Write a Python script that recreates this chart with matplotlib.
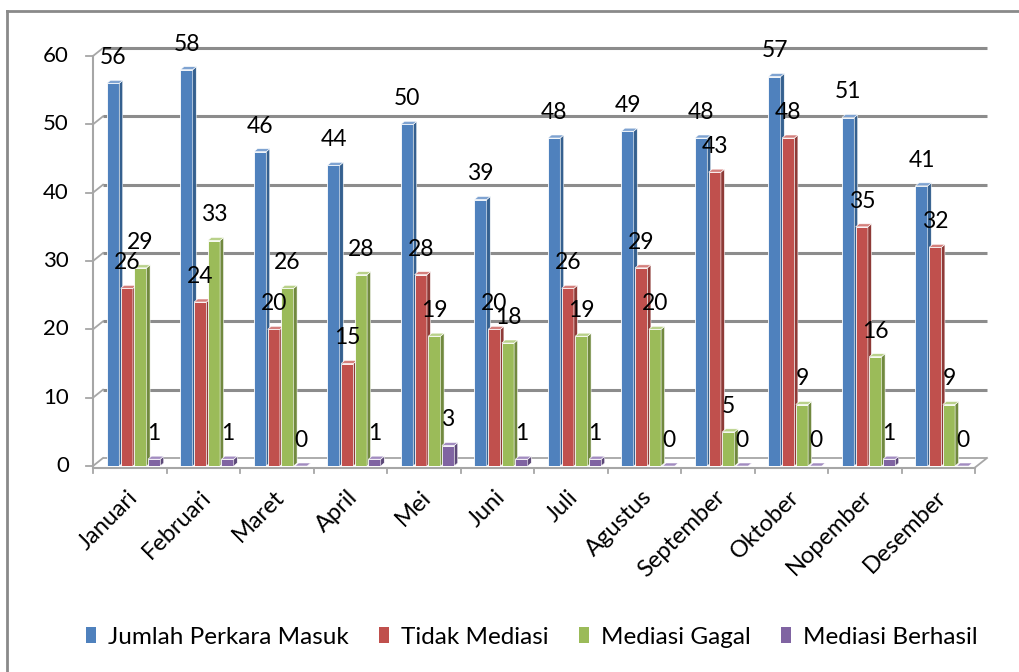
import matplotlib
matplotlib.use("Agg")
import matplotlib.pyplot as plt
from matplotlib.patches import Polygon, Patch
from matplotlib.lines import Line2D

plt.rcParams['font.family'] = ['Lato', 'DejaVu Sans']

months = ["Januari", "Februari", "Maret", "April", "Mei", "Juni", "Juli",
          "Agustus", "September", "Oktober", "Nopember", "Desember"]
series_names = ["Jumlah Perkara Masuk", "Tidak Mediasi", "Mediasi Gagal", "Mediasi Berhasil"]
jumlah_masuk = [56, 58, 46, 44, 50, 39, 48, 49, 48, 57, 51, 41]
tidak_mediasi = [26, 24, 20, 15, 28, 20, 26, 29, 43, 48, 35, 32]
mediasi_gagal = [29, 33, 26, 28, 19, 18, 19, 20, 5, 9, 16, 9]
mediasi_berhasil = [1, 1, 0, 1, 3, 1, 1, 0, 0, 0, 1, 0]
y_ticks = [0, 10, 20, 30, 40, 50, 60]

series = [jumlah_masuk, tidak_mediasi, mediasi_gagal, mediasi_berhasil]
front_col = ["#4F81BD", "#C0504D", "#9BBB59", "#8064A2"]
side_col = ["#35608F", "#8E3A37", "#71893F", "#5C4878"]
top_col = ["#7FA3D1", "#D47F7C", "#B9D18A", "#A28CC0"]

W, H = 1019, 672
fig = plt.figure(figsize=(W / 100, H / 100), dpi=100)

# axes in pixel geometry
x0_px, x1_px = 93, 975
y0_px, y60_px = 466, 56
ax = fig.add_axes([x0_px / W, 1 - y0_px / H, (x1_px - x0_px) / W, (y0_px - y60_px) / H])
ax.set_xlim(0, 12)
ax.set_ylim(0, 60)
ax.axis("off")

ppx = (x1_px - x0_px) / 12.0     # px per x unit
ppy = (y0_px - y60_px) / 60.0    # px per y unit

def dx(px):
    return px / ppx

def dy(px):
    return px / ppy

# Walls / gridlines
grid_c = "#8C8C8C"
wall_dx, wall_dy = dx(10), dy(8)
for v in y_ticks:
    ax.plot([0, wall_dx], [v, v + wall_dy], color="#A6A6A6", lw=1.3, clip_on=False, zorder=1)
    ax.plot([wall_dx, 12 + dx(12)], [v + wall_dy, v + wall_dy],
            color=grid_c if v > 0 else "#A6A6A6", lw=2.2 if v > 0 else 1.3,
            clip_on=False, zorder=1, solid_capstyle="butt")
    ax.plot([-dx(7), 0], [v, v], color="#A6A6A6", lw=1.3, clip_on=False, zorder=1)
    ax.text(-dx(24), v, str(v), ha="right", va="center", fontsize=16, color="#000000")
ax.plot([0, 0], [0, 60], color="#A6A6A6", lw=1.5, clip_on=False, zorder=1)
ax.plot([0, 12], [-dy(1.5), -dy(1.5)], color="#A6A6A6", lw=1.5, clip_on=False, zorder=1)
ax.plot([12, 12 + dx(12)], [-dy(1.5), wall_dy], color="#A6A6A6", lw=1.3, clip_on=False, zorder=1)
for i in range(13):
    ax.plot([i, i], [-dy(1.5), -dy(7)], color="#A6A6A6", lw=1.3, clip_on=False, zorder=1)

# Bars
bw = 0.167
pitch = 0.186
off = 0.19
sdx, sdy = dx(3.5), dy(3)
z = 3
for i in range(12):
    for j, s in enumerate(series):
        v = s[i]
        xl = i + off + j * pitch
        xr = xl + bw
        ax.bar(xl, v, width=bw, align="edge", color=front_col[j],
               edgecolor="white", linewidth=0.6, zorder=z)
        side = Polygon([[xr, 0], [xr, v], [xr + sdx, v + sdy], [xr + sdx, sdy]],
                       closed=True, facecolor=side_col[j], edgecolor="white",
                       linewidth=0.4, zorder=z)
        top = Polygon([[xl, v], [xr, v], [xr + sdx, v + sdy], [xl + sdx, v + sdy]],
                      closed=True, facecolor=top_col[j], edgecolor="white",
                      linewidth=0.4, zorder=z)
        ax.add_patch(side)
        ax.add_patch(top)
        z += 1

for i in range(12):
    for j, s in enumerate(series):
        v = s[i]
        xl = i + off + j * pitch
        ax.annotate(str(v), xy=(xl + bw / 2, v), xytext=(0, 18.4),
                    textcoords="offset points", ha="center", va="center",
                    fontsize=16.5, color="#000000", zorder=200, annotation_clip=False)

# Category labels
for i, m in enumerate(months):
    ax.annotate(m, xy=(i + 0.5, 0), xytext=(3, -20), textcoords="offset points",
                rotation=45, ha="right", va="center", rotation_mode="anchor",
                fontsize=17, color="#000000", annotation_clip=False)

# Legend
handles = [Patch(facecolor=c, edgecolor="none") for c in front_col]
fig.legend(handles, series_names, loc="center", bbox_to_anchor=(0.522, 1 - 637 / H),
           ncol=4, frameon=False, fontsize=17.5, handlelength=0.4, handleheight=0.6,
           handletextpad=0.5, columnspacing=1.25)

# Outer border (left and top)
fig.add_artist(Line2D([7 / W, 7 / W], [0, 1 - 11 / H], color="#8A8A8A", lw=2))
fig.add_artist(Line2D([7 / W, 1], [1 - 11 / H, 1 - 11 / H], color="#8A8A8A", lw=2))

fig.savefig("out.png", dpi=100)
